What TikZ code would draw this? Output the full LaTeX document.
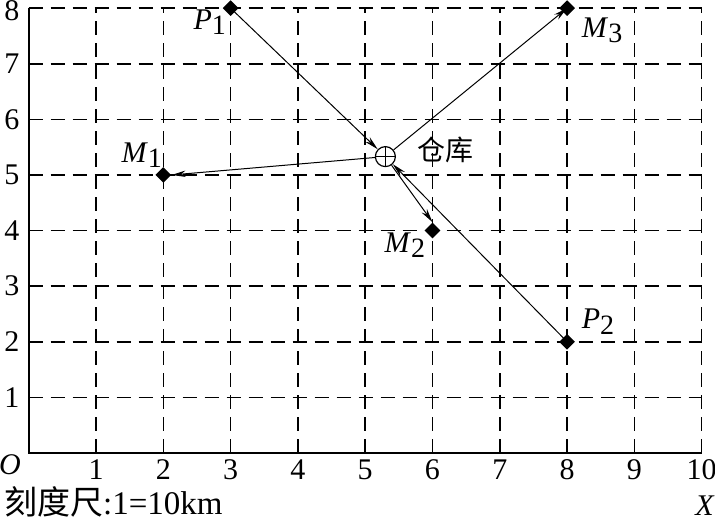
\documentclass[tikz,border=0pt]{standalone}
\usepackage{fontspec}
\setmainfont{Liberation Serif}
\newfontfamily\cjk{Noto Sans CJK SC}
\usetikzlibrary{shapes.geometric,arrows.meta}
\newcommand\lblsub[2]{\textit{#1}\raisebox{-0.4ex}{\fontsize{14}{14}\selectfont #2}}
\begin{document}
\begin{tikzpicture}[x=33.65pt,y=27.8pt,font=\fontsize{15}{17}\selectfont,
  gridline/.style={line width=0.75pt,dash pattern=on 7pt off 4pt},
  axisline/.style={line width=0.8pt},
  pt/.style={shape=diamond,fill=black,inner sep=0pt,minimum width=8pt,minimum height=8pt},
  conn/.style={line width=0.5pt,-{Stealth[length=7pt,width=3.2pt]}}]
\useasboundingbox (-0.4265,-1.223) rectangle (10.198,8.147);
% grid
\foreach \i in {1,...,10} \draw[gridline] (\i,0) -- (\i,8);
\foreach \j in {1,...,8} \draw[gridline] (0,\j) -- (10,\j);
\draw[axisline] (0,8) -- (0,0) -- (10,0);
% tick labels
\foreach \j in {1,...,7} \node (yl\j) at (-0.25,\j) {\j};
\node (yl8) at (-0.25,7.95) {8};
\foreach \i in {1,...,10} \node (xl\i) at (\i,-0.3) {\i};
\node (o) at (-0.28,-0.22) {\textit{O}};
\node (xx) at (10.05,-0.95) {\textit{X}};
\node[anchor=west,inner sep=0pt] (scale) at (-0.37,-0.88) {{\cjk\fontsize{16.5}{18}\selectfont 刻度尺}{\fontsize{16.5}{18}\selectfont :1=10km}};
% points
\node[pt] (P1) at (3,8) {};
\node[pt] (M3) at (8,8) {};
\node[pt] (M1) at (2,5) {};
\node[pt] (M2) at (6,4) {};
\node[pt] (P2) at (8,2) {};
\node[circle,draw,line width=0.6pt,minimum size=10pt,inner sep=0pt,fill=white] (W) at (5.3,5.33) {};
\draw[line width=0.5pt] (W.north) -- (W.south) (W.west) -- (W.east);
\node (Wl) at (6.19,5.45) {\cjk\fontsize{14}{16}\selectfont 仓库};
% labels
\node (P1l) at (2.69,7.75) {\lblsub{P}{1}};
\node (M3l) at (8.52,7.6) {\lblsub{M}{3}};
\node (M1l) at (1.68,5.36) {\lblsub{M}{1}};
\node (M2l) at (5.59,3.74) {\lblsub{M}{2}};
\node (P2l) at (8.46,2.36) {\lblsub{P}{2}};
% connectors
\draw[conn] (P1.center) -- (W);
\draw[conn] (W) -- (M3.center);
\draw[conn] (W) -- (M1.east);
\draw[conn] (W) -- (M2.north);
\draw[conn] (P2.center) -- (W);
\end{tikzpicture}
\end{document}
